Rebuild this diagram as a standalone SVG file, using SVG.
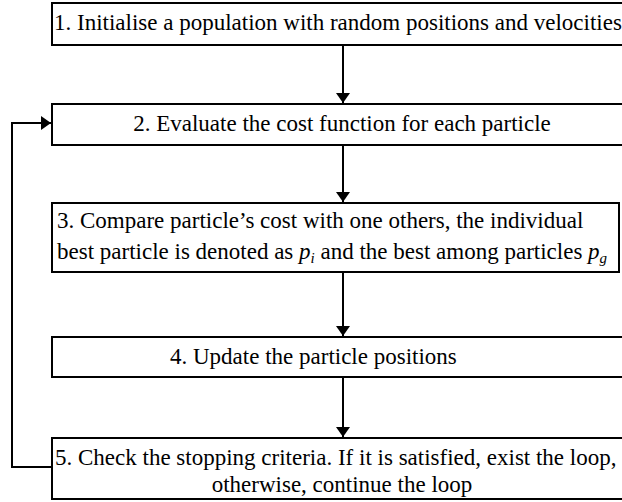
<svg xmlns="http://www.w3.org/2000/svg" width="622" height="502" viewBox="0 0 622 502">
<style>
.box{fill:#fff;stroke:#000;stroke-width:2}
.t{font-family:"Liberation Serif","Times New Roman",serif;font-size:23px;fill:#000}
.c{text-anchor:middle}
.conn{fill:none;stroke:#000;stroke-width:2}
</style>
<defs>
<marker id="ah" viewBox="0 0 10 14" refX="10" refY="7" markerWidth="10" markerHeight="14" markerUnits="userSpaceOnUse" orient="auto">
<path d="M0,0 L10,7 L0,14 Z" fill="#000"/>
</marker>
</defs>
<g id="connectors">
<line class="conn" x1="343" y1="45" x2="343" y2="103" marker-end="url(#ah)"/>
<line class="conn" x1="343" y1="145" x2="343" y2="202" marker-end="url(#ah)"/>
<line class="conn" x1="343" y1="272" x2="343" y2="336" marker-end="url(#ah)"/>
<line class="conn" x1="343" y1="377" x2="343" y2="437" marker-end="url(#ah)"/>
<polyline class="conn" points="52,467 12,467 12,123 51,123" marker-end="url(#ah)"/>
</g>
<g id="node1">
<rect class="box" x="52" y="3" width="580" height="42"/>
<text class="t" x="54" y="30">1. Initialise a population with random positions and velocities</text>
</g>
<g id="node2">
<rect class="box" x="52" y="104" width="580" height="41"/>
<text class="t c" x="342" y="131">2. Evaluate the cost function for each particle</text>
</g>
<g id="node3">
<rect class="box" x="52" y="203" width="567" height="69"/>
<text class="t" x="57" y="228">3. Compare particle’s cost with one others, the individual</text>
<text class="t" x="57" y="259">best particle is denoted as <tspan font-style="italic">p</tspan><tspan font-style="italic" font-size="15" dy="4">i</tspan><tspan dy="-4"> and the best among particles </tspan><tspan font-style="italic">p</tspan><tspan font-style="italic" font-size="15" dy="4">g</tspan></text>
</g>
<g id="node4">
<rect class="box" x="52" y="337" width="580" height="40"/>
<text class="t" x="170" y="364">4. Update the particle positions</text>
</g>
<g id="node5">
<rect class="box" x="52" y="438" width="580" height="61"/>
<text class="t" x="55" y="465">5. Check the stopping criteria. If it is satisfied, exist the loop,</text>
<text class="t c" x="342" y="492">otherwise, continue the loop</text>
</g>
</svg>
